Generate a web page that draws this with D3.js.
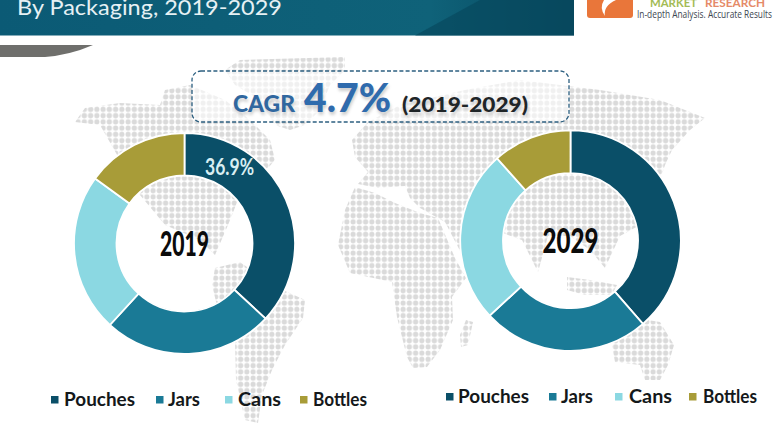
<!DOCTYPE html>
<html><head><meta charset="utf-8">
<script src="https://cdn.jsdelivr.net/npm/d3@7"></script>
<style>html,body{margin:0;padding:0;background:#fff}svg{display:block}text{font-family:Lato,sans-serif}</style>
</head><body><svg id="c" width="780" height="440"></svg>
<script>
const categories = ["Pouches","Jars","Cans","Bottles"];
const values2019 = [36.9,24.9,23.2,15.0];
const values2029 = [38.6,24.5,25.3,11.6];
const colors = ["#0a4f68","#1a7a96","#8bd8e2","#a89c38"];
const titleText = "By Packaging, 2019-2029";
const tagline = "In-depth Analysis. Accurate Results";
const pouchesLabel = "36.9%";
// decorative world-map background outlines
const land = [
 [[75,122],[85,108],[120,103],[160,105],[165,90],[190,85],[225,100],[250,120],[270,140],[275,160],[262,175],[250,190],[238,200],[228,225],[215,255],[200,240],[165,225],[140,195],[120,160],[100,125]],
 [[225,70],[240,60],[345,57],[345,70],[330,85],[320,110],[305,125],[290,130],[275,125],[260,100],[235,85]],
 [[215,268],[240,262],[272,285],[305,300],[303,318],[285,345],[272,370],[262,395],[258,423],[245,420],[236,380],[235,340],[218,310],[212,285]],
 [[355,187],[375,193],[395,203],[420,213],[438,218],[455,258],[466,278],[452,297],[453,320],[440,350],[427,367],[413,368],[407,357],[397,317],[392,282],[350,273],[338,245],[345,210]],
 [[355,157],[352,140],[368,122],[400,105],[465,90],[520,80],[600,90],[660,100],[705,118],[690,130],[672,150],[665,165],[655,195],[640,225],[620,236],[605,268],[590,250],[570,236],[548,236],[538,272],[522,240],[500,232],[485,262],[470,270],[445,222],[420,208],[410,198],[405,186],[378,188],[358,184],[368,172]],
 [[567,277],[590,280],[617,285],[612,295],[585,295],[567,290]],
 [[610,335],[635,318],[660,322],[674,345],[668,365],[660,380],[645,380],[640,365],[615,362]],
 [[466,320],[473,322],[468,345],[461,347],[460,335]]
];

const svg = d3.select("#c");
const defs = svg.append("defs");
const pat = defs.append("pattern").attr("id","dots").attr("patternUnits","userSpaceOnUse").attr("width",6.25).attr("height",6.25);
pat.append("circle").attr("cx",3.1).attr("cy",3.1).attr("r",2.6).attr("fill","#dadada");
const hg = defs.append("linearGradient").attr("id","hdr").attr("x1",0).attr("x2",1).attr("y1",0).attr("y2",0);
hg.append("stop").attr("offset","0").attr("stop-color","#0b5a75");
hg.append("stop").attr("offset","0.75").attr("stop-color","#0f6279");
hg.append("stop").attr("offset","1").attr("stop-color","#07475d");
const blur = defs.append("filter").attr("id","soft").attr("x","-5%").attr("y","-20%").attr("width","110%").attr("height","140%");
blur.append("feGaussianBlur").attr("stdDeviation",1.5);

// map
svg.append("g").selectAll("path").data(land).join("path")
  .attr("d",d=>d3.line().curve(d3.curveLinearClosed)(d)).attr("fill","url(#dots)");

// header
svg.append("rect").attr("x",0).attr("y",0).attr("width",574).attr("height",35.5).attr("fill","url(#hdr)");
svg.append("path").attr("d","M480 0L574 0L574 35.5L415 35.5Z").attr("fill","#07485e").attr("opacity",0.7);
svg.append("text").text(titleText).attr("x",17).attr("y",15).attr("fill","#e6f1f4").attr("font-size",22)
  .attr("textLength",265).attr("lengthAdjust","spacingAndGlyphs");
svg.append("path").attr("d","M0 45L93 45Q70 55 45 57L0 57Z").attr("fill","#6f6f6c");

// logo
svg.append("path").attr("d","M587 0H633V15Q633 18 630 18H590Q587 18 587 15Z").attr("fill","#e9763a");
svg.append("path").attr("d","M605 16Q603 6 616 0H604Q599 8 605 16Z").attr("fill","#fff");
svg.append("text").text("MARKET").attr("x",650).attr("y",7).attr("font-size",11.5).attr("font-weight",700).attr("fill","#a3bb55").attr("textLength",47).attr("lengthAdjust","spacingAndGlyphs");
svg.append("text").text("RESEARCH").attr("x",705).attr("y",7).attr("font-size",11.5).attr("font-weight",700).attr("fill","#e58a68").attr("textLength",60).attr("lengthAdjust","spacingAndGlyphs");
svg.append("text").text(tagline).attr("x",637).attr("y",17.5).attr("font-size",10.5).attr("fill","#3c4650").attr("style","font-family:'Open Sans'")
  .attr("textLength",135).attr("lengthAdjust","spacingAndGlyphs");

// CAGR box
svg.append("rect").attr("x",192).attr("y",71).attr("width",377).attr("height",51).attr("rx",9)
  .attr("fill","#fff").attr("fill-opacity",0.6).attr("stroke","#2c5f80").attr("stroke-width",1.3).attr("stroke-dasharray","4 2.2");
const shadow = svg.append("g").attr("filter","url(#soft)").attr("opacity",0.35).attr("fill","#777");
const cagrText = [
 {t:"CAGR",x:233,y:112,s:23,w:62,c:"#30679f"},
 {t:"4.7%",x:304,y:112,s:39,w:87,c:"#2f6bad"},
 {t:"(2019-2029)",x:402,y:112,s:20.5,w:126,c:"#1f2528"}
];
shadow.selectAll("text").data(cagrText).join("text").text(d=>d.t).attr("x",d=>d.x+1).attr("y",d=>d.y+3)
  .attr("font-size",d=>d.s).attr("font-weight",900).attr("textLength",d=>d.w).attr("lengthAdjust","spacingAndGlyphs");
svg.append("g").selectAll("text").data(cagrText).join("text").text(d=>d.t).attr("x",d=>d.x).attr("y",d=>d.y)
  .attr("font-size",d=>d.s).attr("font-weight",900).attr("fill",d=>d.c).attr("textLength",d=>d.w).attr("lengthAdjust","spacingAndGlyphs");

// donuts
const pie = d3.pie().sort(null);
function donut(vals,cx,cy,R,r,year,yw){
  const g = svg.append("g").attr("transform",`translate(${cx},${cy})`);
  const arc = d3.arc().outerRadius(R).innerRadius(r);
  g.selectAll("path").data(pie(vals)).join("path").attr("d",arc)
    .attr("fill",(d,i)=>colors[i]).attr("stroke","#fff").attr("stroke-width",1.8);
  g.append("text").text(year).attr("x",-yw/2).attr("y",12).attr("font-size",34).attr("font-weight",900).attr("fill","#0b0b0b")
    .attr("textLength",yw).attr("lengthAdjust","spacingAndGlyphs");
  return g;
}
const g19 = donut(values2019,184.5,243.5,110.5,68,"2019",49);
donut(values2029,570.5,240.7,110.3,67.5,"2029",56);
g19.append("text").text(pouchesLabel).attr("x",20.5).attr("y",-69).attr("font-size",23).attr("font-weight",700).attr("fill","#d8eef2")
  .attr("textLength",49).attr("lengthAdjust","spacingAndGlyphs");

// legends
function legend(y,swX,txtX,w){
  const g = svg.append("g");
  g.selectAll("rect").data(categories).join("rect").attr("x",(d,i)=>swX[i]).attr("y",y-10).attr("width",7.5).attr("height",7.5).attr("fill",(d,i)=>colors[i]);
  g.selectAll("text").data(categories).join("text").text(d=>d).attr("x",(d,i)=>txtX[i]).attr("y",y)
    .attr("font-size",18).attr("font-weight",700).attr("fill","#14181a")
    .attr("textLength",(d,i)=>w[i]).attr("lengthAdjust","spacingAndGlyphs");
}
legend(406,[51,156,225,300],[64,168,238,313],[71,32,43,54]);
legend(403,[446,549,615,689],[458,561,629,703],[71,32,43,54]);
</script></body></html>
